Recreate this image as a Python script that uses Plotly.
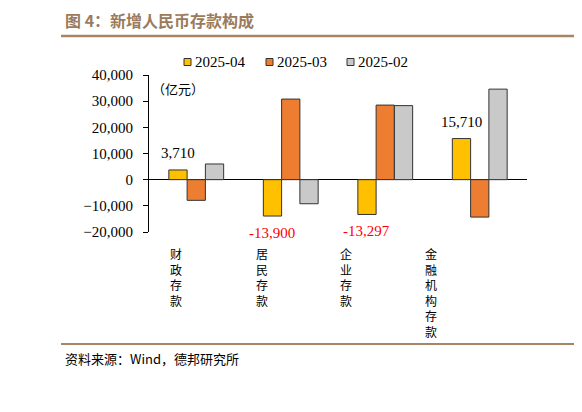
import plotly.graph_objects as go

# 新增人民币存款构成（亿元）
categories = ['财政存款', '居民存款', '企业存款', '金融机构存款']
series_names = ['2025-04', '2025-03', '2025-02']
apr_2025 = [3710, -13900, -13297, 15710]
mar_2025 = [-7900, 30800, 28500, -14300]
feb_2025 = [6000, -9200, 28300, 34600]
y_ticks = [-20000, -10000, 0, 10000, 20000, 30000, 40000]

colors = ['#FFC000', '#ED7D31', '#C9C9C9']
serif = 'Liberation Serif, Noto Sans CJK SC, serif'
cjk = 'Noto Sans CJK SC, sans-serif'

# plot area in window pixels, used to place the header, footer and legend
PL, PW, PT, PH = 149, 378, 75, 157


def px_x(x):
    return (x - PL) / PW


def px_y(y):
    return 1 + (PT - y) / PH


fig = go.Figure()
for name, vals, c in zip(series_names, [apr_2025, mar_2025, feb_2025], colors):
    fig.add_trace(go.Bar(
        x=categories, y=vals, name=name, showlegend=False,
        marker=dict(color=c, line=dict(color='#333333', width=1)),
    ))

# legend drawn by hand: small squares like the Excel original
legend_left = [184, 266, 347]
for name, c, lx in zip(series_names, colors, legend_left):
    fig.add_shape(type='rect', xref='paper', yref='paper',
                  x0=px_x(lx), x1=px_x(lx + 7), y0=px_y(58.5), y1=px_y(65.5),
                  fillcolor=c, line=dict(color='#333333', width=1))
    fig.add_annotation(x=px_x(lx + 9), y=px_y(62), xref='paper', yref='paper',
                       xanchor='left', yanchor='middle', showarrow=False, text=name,
                       font=dict(family=serif, size=15, color='black'))

# data labels on the 2025-04 bars
for cat, v in zip(categories, apr_2025):
    fig.add_annotation(
        x=cat, y=v, text=f'{v:,}', showarrow=False,
        xshift=-18.5, yshift=17 if v > 0 else -17,
        font=dict(family=serif, size=15, color='black' if v > 0 else '#FF0000'),
    )

# vertical category labels (Excel draws them drifting left)
label_shift = [-20, -29, -39, -49]
for cat, dx in zip(categories, label_shift):
    fig.add_annotation(
        x=cat, y=0, yref='paper', yanchor='top', yshift=-11, xshift=dx,
        text='<br>'.join(cat), showarrow=False,
        font=dict(family=cjk, size=12, color='black'),
    )

fig.add_annotation(x=0.0015, y=0.987, xref='paper', yref='paper', xanchor='left',
                   text='（亿元）', showarrow=False,
                   font=dict(family=cjk, size=13, color='black'))

# the page body adds an 8px offset, so the figure is 8px smaller than the window
fig.update_layout(
    width=574, height=404,
    margin=dict(l=141, r=55, t=67, b=180),
    paper_bgcolor='white', plot_bgcolor='white',
    barmode='group', bargap=0.42, bargroupgap=0,
    xaxis=dict(showticklabels=False, showline=False, ticks='', showgrid=False),
    yaxis=dict(range=[-20000, 40000], tickvals=y_ticks, tickformat=',',
               showgrid=False, showline=True, linecolor='black', linewidth=1,
               ticks='outside', ticklen=5, tickcolor='black', ticklabelstandoff=7,
               zeroline=True, zerolinecolor='black', zerolinewidth=1,
               tickfont=dict(family=serif, size=15, color='black')),
)

fig.add_annotation(x=px_x(63), y=px_y(20), xref='paper', yref='paper',
                   xanchor='left', yanchor='middle', showarrow=False,
                   text='<b>图 4：新增人民币存款构成</b>',
                   font=dict(family=cjk, size=16, color='#9B7B5B'))
fig.add_annotation(x=px_x(63), y=px_y(358), xref='paper', yref='paper',
                   xanchor='left', yanchor='middle', showarrow=False,
                   text='资料来源：Wind，德邦研究所',
                   font=dict(family=cjk, size=13, color='black'))
for ly, lw in [(36, 2.5), (344, 2)]:
    fig.add_shape(type='line', xref='paper', yref='paper',
                  x0=px_x(61), x1=px_x(582), y0=px_y(ly), y1=px_y(ly),
                  line=dict(color='#A68466', width=lw))

fig.write_html('out.html')
